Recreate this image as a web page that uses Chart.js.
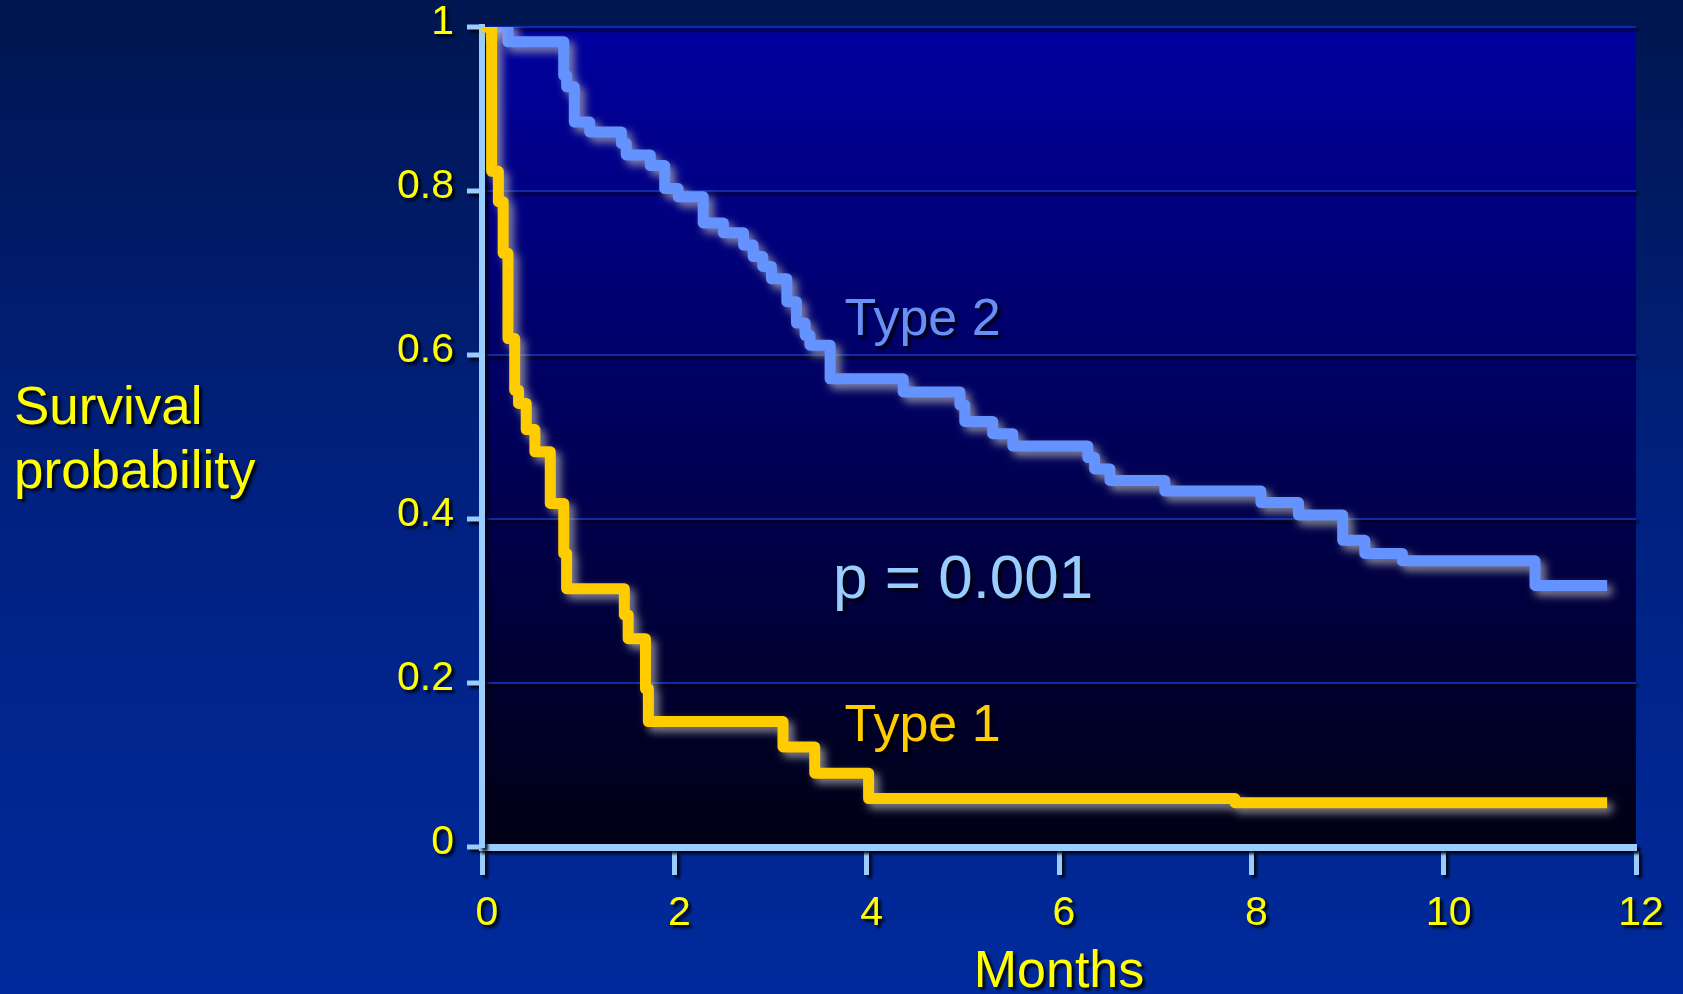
<!DOCTYPE html>
<html>
<head>
<meta charset="utf-8">
<title>Survival probability</title>
<script src="https://cdn.jsdelivr.net/npm/chart.js@4.4.1/dist/chart.umd.min.js"></script>
<style>
  html, body { margin: 0; padding: 0; background: #001d66; overflow: hidden; }
  #grafico { display: block; }
</style>
</head>
<body>
<canvas id="grafico" width="1683" height="994"></canvas>
<script>
const xTickLabels = ['0', '2', '4', '6', '8', '10', '12'];
const yTickLabels = ['0', '0.2', '0.4', '0.6', '0.8', '1'];

// Type 1 (amarela)
const type1Months = [0, 0.10, 0.17, 0.22, 0.27, 0.34, 0.38, 0.46, 0.55, 0.71, 0.85, 0.88, 1.48, 1.52, 1.70, 1.73, 3.13, 3.46, 4.02, 7.83, 11.70];
const type1Surv = [1, 0.824, 0.787, 0.724, 0.620, 0.557, 0.541, 0.509, 0.482, 0.419, 0.358, 0.315, 0.283, 0.254, 0.193, 0.153, 0.122, 0.090, 0.059, 0.054, 0.054];

// Type 2 (azul)
const type2Months = [0, 0.27, 0.85, 0.88, 0.96, 1.12, 1.45, 1.50, 1.75, 1.90, 2.04, 2.30, 2.51, 2.72, 2.82, 2.92, 3.01, 3.17, 3.27, 3.36, 3.41, 3.62, 4.38, 4.97, 5.02, 5.31, 5.52, 6.30, 6.37, 6.53, 7.10, 8.10, 8.49, 8.95, 9.18, 9.57, 10.95, 11.70];
const type2Surv = [1, 0.982, 0.941, 0.927, 0.884, 0.872, 0.858, 0.844, 0.831, 0.803, 0.793, 0.761, 0.749, 0.734, 0.720, 0.708, 0.693, 0.665, 0.639, 0.624, 0.612, 0.571, 0.555, 0.539, 0.519, 0.504, 0.489, 0.475, 0.461, 0.447, 0.434, 0.420, 0.405, 0.374, 0.358, 0.349, 0.319, 0.319];

const fonte = 'Arial, "Liberation Sans", sans-serif';

// textos dentro do grafico, ancorados em meses / probabilidade
const rotulos = [
  { text: 'Type 2', x: 3.77, y: 0.624, color: '#6890f2', size: 52 },
  { text: 'Type 1', x: 3.77, y: 0.129, color: '#ffcc00', size: 52 },
  { text: 'p = 0.001', x: 3.65, y: 0.304, color: '#99ccff', size: 62 }
];

const pontos = (meses, surv) => meses.map((m, i) => ({ x: m, y: surv[i] }));

const sombraTexto = ctx => {
  ctx.shadowColor = 'rgba(0,0,0,0.85)';
  ctx.shadowBlur = 3;
  ctx.shadowOffsetX = 3;
  ctx.shadowOffsetY = 3;
};

const fundo = {
  id: 'fundo',
  beforeDraw(chart) {
    const ctx = chart.ctx;
    const { left, top, right, bottom } = chart.chartArea;
    ctx.save();
    let g = ctx.createLinearGradient(0, 0, 0, chart.height);
    g.addColorStop(0, '#001650');
    g.addColorStop(0.5, '#002180');
    g.addColorStop(1, '#002a9c');
    ctx.fillStyle = g;
    ctx.fillRect(0, 0, chart.width, chart.height);
    g = ctx.createLinearGradient(0, top, 0, bottom);
    g.addColorStop(0, '#0000a0');
    g.addColorStop(1, '#000014');
    ctx.fillStyle = g;
    ctx.fillRect(left, top, right - left, bottom - top);
    ctx.restore();
    sombraTexto(ctx);
  },
  beforeDatasetsDraw(chart) {
    const ctx = chart.ctx;
    ctx.shadowColor = 'rgba(185,185,185,0.7)';
    ctx.shadowBlur = 8;
    ctx.shadowOffsetX = 5;
    ctx.shadowOffsetY = 5;
  },
  afterDraw(chart) {
    const ctx = chart.ctx;
    const sx = chart.scales.x, sy = chart.scales.y;
    ctx.save();
    sombraTexto(ctx);
    ctx.textBaseline = 'alphabetic';
    ctx.textAlign = 'left';
    rotulos.forEach(r => {
      ctx.font = r.size + 'px ' + fonte;
      ctx.fillStyle = r.color;
      ctx.fillText(r.text, sx.getPixelForValue(r.x), sy.getPixelForValue(r.y));
    });
    ctx.font = '53px ' + fonte;
    ctx.fillStyle = '#ffff00';
    ctx.fillText('Survival', 14, 424);
    ctx.fillText('probability', 14, 488);
    ctx.restore();
    ctx.shadowColor = 'rgba(0,0,0,0)';
    ctx.shadowBlur = 0;
    ctx.shadowOffsetX = 0;
    ctx.shadowOffsetY = 0;
  }
};

new Chart(document.getElementById('grafico').getContext('2d'), {
  type: 'line',
  data: {
    datasets: [{
      label: 'Type 1',
      data: pontos(type1Months, type1Surv),
      borderColor: '#ffcc00',
      borderWidth: 11,
      stepped: true,
      pointRadius: 0,
      fill: false,
      borderJoinStyle: 'round'
    }, {
      label: 'Type 2',
      data: pontos(type2Months, type2Surv),
      borderColor: '#6492ff',
      borderWidth: 11,
      stepped: true,
      pointRadius: 0,
      fill: false,
      borderJoinStyle: 'round'
    }]
  },
  options: {
    responsive: false,
    animation: false,
    events: [],
    layout: { padding: { top: 27, right: 47, bottom: 0, left: 0 } },
    plugins: {
      legend: { display: false },
      tooltip: { enabled: false }
    },
    scales: {
      x: {
        type: 'linear',
        min: 0,
        max: 12,
        afterFit: s => { s.height = 147; },
        ticks: {
          stepSize: 2,
          color: '#ffff00',
          font: { family: fonte, size: 41 },
          padding: 14,
          labelOffset: 5,
          maxRotation: 0,
          autoSkip: false,
          callback: (v, i) => xTickLabels[i]
        },
        grid: { drawOnChartArea: false, tickLength: 28, tickWidth: 5, tickColor: '#99ccff' },
        border: { color: '#99ccff', width: 7 },
        title: {
          display: true,
          text: 'Months',
          color: '#ffff00',
          font: { family: fonte, size: 52, lineHeight: 0.82 },
          padding: { top: 0, bottom: 0 }
        }
      },
      y: {
        min: 0,
        max: 1,
        afterFit: s => { s.width = 482; s.paddingTop = 0; s.paddingBottom = 0; },
        ticks: {
          stepSize: 0.2,
          color: '#ffff00',
          font: { family: fonte, size: 41 },
          padding: 13,
          labelOffset: -4,
          callback: (v, i) => yTickLabels[i]
        },
        grid: { color: '#0b2ca6', lineWidth: 2, tickLength: 15, tickWidth: 5, tickColor: '#99ccff' },
        border: { color: '#99ccff', width: 6 }
      }
    }
  },
  plugins: [fundo]
});
</script>
</body>
</html>
